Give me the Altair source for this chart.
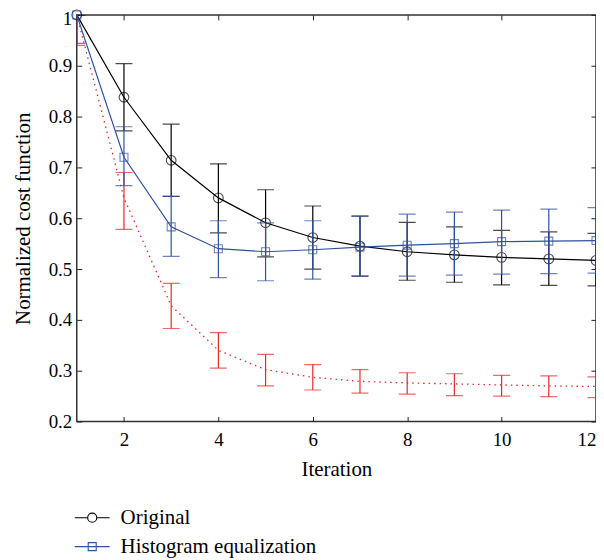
import altair as alt
import pandas as pd

# ---------------- data ----------------
iterations = [1, 2, 3, 4, 5, 6, 7, 8, 9, 10, 11, 12]

orig_mean = [1.000, 0.838, 0.714, 0.640, 0.591, 0.562, 0.545, 0.534, 0.528, 0.523, 0.520, 0.517]
orig_lo   = [1.000, 0.772, 0.643, 0.571, 0.524, 0.500, 0.486, 0.478, 0.474, 0.469, 0.468, 0.467]
orig_hi   = [1.000, 0.904, 0.785, 0.707, 0.656, 0.624, 0.604, 0.592, 0.583, 0.576, 0.573, 0.570]

he_mean = [1.000, 0.720, 0.583, 0.540, 0.534, 0.538, 0.543, 0.547, 0.550, 0.554, 0.555, 0.556]
he_lo   = [0.944, 0.664, 0.525, 0.483, 0.477, 0.480, 0.486, 0.486, 0.488, 0.490, 0.491, 0.492]
he_hi   = [1.056, 0.780, 0.643, 0.595, 0.591, 0.595, 0.604, 0.608, 0.612, 0.616, 0.618, 0.621]

red_mean = [1.000, 0.640, 0.428, 0.340, 0.302, 0.287, 0.279, 0.276, 0.274, 0.272, 0.270, 0.269]
red_lo   = [0.940, 0.578, 0.383, 0.305, 0.270, 0.262, 0.256, 0.254, 0.251, 0.250, 0.249, 0.247]
red_hi   = [1.060, 0.690, 0.472, 0.375, 0.332, 0.312, 0.302, 0.296, 0.294, 0.291, 0.290, 0.288]

series_names = ["Original", "Histogram equalization", "Proposed"]
x_ticks = [2, 4, 6, 8, 10, 12]
y_ticks = [0.2, 0.3, 0.4, 0.5, 0.6, 0.7, 0.8, 0.9, 1.0]
y_labels_main = [0.2, 0.3, 0.4, 0.5, 0.6, 0.7, 0.8, 0.9]
y_labels_top = [1.0]

# ---------------- style ----------------
FONT = "Liberation Serif"
BLACK = "#000000"
BLUE = "#3050a0"
RED = "#e8282b"


def frame(mean, lo, hi, name):
    return pd.DataFrame({"iter": iterations, "mean": mean, "lo": lo, "hi": hi, "series": name})


df_o = frame(orig_mean, orig_lo, orig_hi, series_names[0])
df_h = frame(he_mean, he_lo, he_hi, series_names[1])
df_r = frame(red_mean, red_lo, red_hi, series_names[2])
df_main = pd.concat([df_o, df_h], ignore_index=True)

xscale = alt.Scale(domain=[1, 12], nice=False, zero=False)
yscale = alt.Scale(domain=[0.2, 1.0], nice=False, zero=False)

lab_x_axis = alt.Axis(values=x_ticks, orient="bottom", title="Iteration", ticks=False, domain=False,
                      grid=False, labelFont=FONT, labelFontSize=19, labelColor="black", labelPadding=9,
                      titleFont=FONT, titleFontSize=21, titleFontWeight="normal", titleColor="black",
                      titlePadding=9)
lab_y_axis = alt.Axis(values=y_labels_main, orient="left", title="Normalized cost function", format="~g",
                      ticks=False, domain=False, grid=False, labelFont=FONT, labelFontSize=19,
                      labelColor="black", labelPadding=5, titleFont=FONT, titleFontSize=21,
                      titleFontWeight="normal", titleColor="black", titlePadding=15)
top_y_axis = alt.Axis(values=y_labels_top, orient="left", title=None, format="~g",
                      ticks=False, domain=False, grid=False, labelFont=FONT, labelFontSize=19,
                      labelColor="black", labelPadding=5, labelOffset=4)


def tick_axis(values, orient):
    return alt.Axis(values=values, orient=orient, title=None, labels=False, domain=False, grid=False,
                    ticks=True, tickSize=5, tickColor="#222222", tickWidth=1, offset=-5)


def xenc(axis):
    return alt.X("iter:Q", scale=xscale, axis=axis)


def yenc(field, axis):
    return alt.Y(f"{field}:Q", scale=yscale, axis=axis)


def series_layers(df, color, shape, dashed, axes_list):
    base = alt.Chart(df)
    if dashed:
        line = base.mark_line(color=color, strokeWidth=1.3, strokeDash=[1.5, 4])
    else:
        line = base.mark_line(color=color, strokeWidth=1.2)
    line = line.encode(x=xenc(axes_list[0][0]), y=yenc("mean", axes_list[0][1]))
    rule = base.mark_rule(color=color, strokeWidth=1.2, clip=True).encode(
        x=xenc(axes_list[1][0]), y=yenc("lo", axes_list[1][1]), y2="hi:Q")
    cap_lo = base.mark_tick(color=color, orient="horizontal", size=17, thickness=1.2, clip=True).encode(
        x=xenc(axes_list[2][0]), y=yenc("lo", axes_list[2][1]))
    cap_hi = base.mark_tick(color=color, orient="horizontal", size=17, thickness=1.2, clip=True).encode(
        x=xenc(axes_list[3][0]), y=yenc("hi", axes_list[3][1]))
    layers = [line, rule, cap_lo, cap_hi]
    if shape is not None:
        size = 95 if shape == "circle" else 64
        pts = base.mark_point(color=color, shape=shape, filled=False, size=size, strokeWidth=1.1).encode(
            x=xenc(None), y=yenc("mean", None))
        layers.append(pts)
    return layers


red_layers = series_layers(df_r, RED, None, True, [
    (lab_x_axis, lab_y_axis),
    (tick_axis(x_ticks, "bottom"), tick_axis(y_ticks, "left")),
    (tick_axis(x_ticks, "top"), tick_axis(y_ticks, "right")),
    (None, top_y_axis),
])
none4 = [(None, None)] * 4
orig_layers = series_layers(df_o, BLACK, "circle", False, none4)
he_layers = series_layers(df_h, BLUE, "square", False, none4)

# legend symbols: a line with the marker in its middle
path_circle = ("M-1,0L-0.26,0M0.26,0L1,0M0.26,0A0.26,0.26,0,1,1,-0.26,0"
               "A0.26,0.26,0,1,1,0.26,0Z")
path_square = "M-1,0L1,0M-0.23,-0.23L0.23,-0.23L0.23,0.23L-0.23,0.23Z"

leg = alt.Legend(title=None, orient="none", direction="vertical", legendX=-3, legendY=486,
                 labelFont=FONT, labelFontSize=21, labelColor="black", labelLimit=500,
                 symbolSize=1225, symbolStrokeWidth=1.1, symbolOpacity=1, rowPadding=-8,
                 labelOffset=10, padding=0)

legend_layer = alt.Chart(df_main).mark_point(opacity=0, filled=False).encode(
    x=xenc(None), y=yenc("mean", None),
    shape=alt.Shape("series:N", scale=alt.Scale(domain=series_names[:2], range=[path_circle, path_square]),
                    legend=leg),
    color=alt.Color("series:N", scale=alt.Scale(domain=series_names[:2], range=[BLACK, BLUE]), legend=leg),
)

chart = alt.layer(*red_layers, *orig_layers, *he_layers, legend_layer).resolve_axis(
    x="independent", y="independent"
).properties(
    width=521, height=408,
    padding={"left": 69, "top": 6, "right": 0, "bottom": 138},
    autosize=alt.AutoSizeParams(type="none"),
).configure_view(stroke="#333333", strokeWidth=1.5)

chart.save("out.html", embed_options={"renderer": "svg", "actions": False})
